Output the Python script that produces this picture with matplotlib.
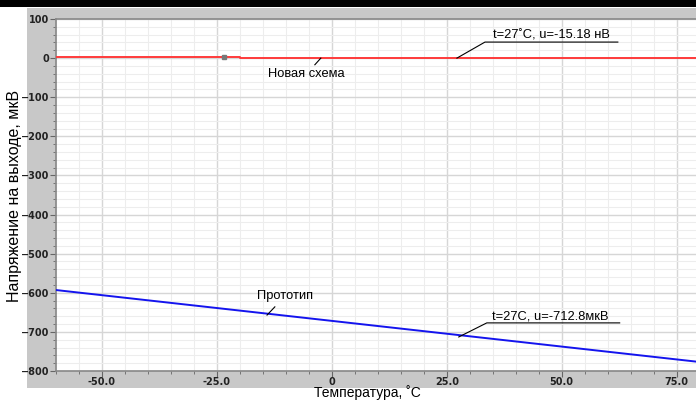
import matplotlib
matplotlib.use("Agg")
import matplotlib.pyplot as plt
from matplotlib.patches import Rectangle
from matplotlib.ticker import MultipleLocator, FixedLocator

# Data
temp_new = [-60, -23.5, -20, -20, 80]
u_new = [3, 3, 3, 0, 0]
temp_proto = [-60, 80]
u_proto = [-593, -777]
marker_t = [-23.5]
marker_u = [3]

x_ticks = [-50, -25, 0, 25, 50, 75]
x_labels = ["-50.0", "-25.0", "0", "25.0", "50.0", "75.0"]
y_ticks = [100, 0, -100, -200, -300, -400, -500, -600, -700, -800]

W, H = 696, 401
fig = plt.figure(figsize=(W / 100, H / 100), dpi=100)
fig.patch.set_facecolor("white")

# gray frame and black strip at the top
fig.patches.append(Rectangle((27 / W, 1 - 388 / H), 1 - 27 / W, (388 - 8) / H,
                             transform=fig.transFigure, facecolor="#c8c8c8",
                             edgecolor="none", zorder=-5))
fig.patches.append(Rectangle((0, 1 - 7 / H), 1, 7 / H, transform=fig.transFigure,
                             facecolor="black", edgecolor="none", zorder=-5))

ax = fig.add_axes([56 / W, 1 - 371 / H, 1 - 56 / W, (371 - 19) / H])
ax.set_zorder(2)
ax.set_facecolor("white")
ax.set_xlim(-60, 79.2)
ax.set_ylim(-800, 100)

ax.xaxis.set_major_locator(FixedLocator(x_ticks))
ax.set_xticklabels(x_labels)
ax.xaxis.set_minor_locator(MultipleLocator(5))
ax.yaxis.set_major_locator(FixedLocator(y_ticks))
ax.yaxis.set_minor_locator(MultipleLocator(20))

ax.grid(which="major", color="#d6d6d6", linewidth=1.0)
ax.grid(which="minor", color="#ededed", linewidth=0.8)
ax.set_axisbelow(True)

for s in ["left", "top", "bottom"]:
    ax.spines[s].set_color("#888888")
    ax.spines[s].set_linewidth(1.2)
ax.spines["right"].set_visible(False)

ax.tick_params(which="major", direction="out", length=4, color="#666666",
               labelsize=7, pad=1)
ax.tick_params(axis="x", which="major", pad=0)
ax.tick_params(which="minor", direction="out", length=2, color="#666666")
for lab in ax.get_xticklabels() + ax.get_yticklabels():
    lab.set_fontweight("bold")
    lab.set_color("#222222")

ax.plot(temp_new, u_new, color="#ff3a3a", linewidth=1.4, zorder=3)
ax.plot(marker_t, marker_u, "s", color="#777777", markersize=2.5, zorder=4)
ax.plot(temp_proto, u_proto, color="#1414ee", linewidth=1.4, zorder=3)

txt = dict(fontsize=9.3, family="Liberation Sans", color="black")

# "Новая схема"
ax.plot([-3.7, -2.4], [-17, 0], color="black", linewidth=0.8, zorder=5)
ax.text(-13.9, -40, "Новая схема", va="center", ha="left", **txt)

# "Прототип"
ax.plot([-14.1, -12.4], [-657, -636], color="black", linewidth=0.8, zorder=5)
ax.text(-16.3, -608, "Прототип", va="center", ha="left", **txt)

# t=27 readouts
ax.plot([27.2, 33.3, 62.2], [0, 41, 41], color="black", linewidth=0.8, zorder=5)
ax.text(35.0, 43, "t=27˚C, u=-15.18 нВ", va="bottom", ha="left", **txt)
ax.plot([27.6, 33.7, 62.6], [-713, -677, -677], color="black", linewidth=0.8, zorder=5)
ax.text(34.8, -675, "t=27C, u=-712.8мкВ", va="bottom", ha="left", **txt)

fig.text(367 / W, 1 - 400.5 / H, "Температура, ˚С", ha="center", va="bottom",
         fontsize=10, family="Liberation Sans")
fig.text(15 / W, 1 - 196 / H, "Напряжение на выходе, мкВ", ha="center",
         va="center", rotation=90, fontsize=11.5, family="Liberation Sans")

fig.savefig("out.png", dpi=100)
